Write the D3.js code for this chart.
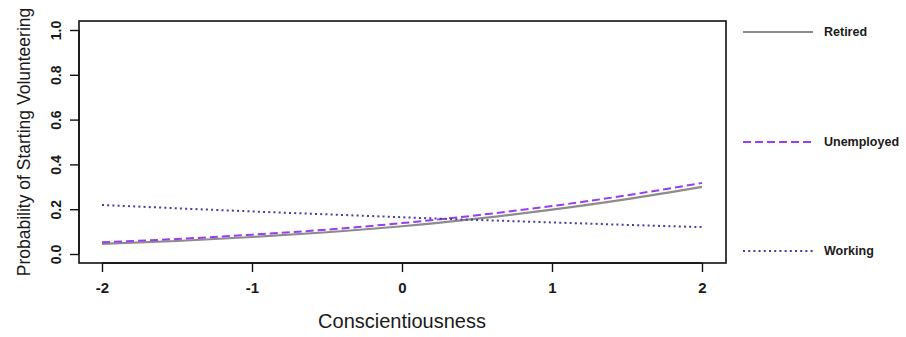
<!DOCTYPE html>
<html>
<head>
<meta charset="utf-8">
<script src="https://cdn.jsdelivr.net/npm/d3@7"></script>
<style>
  body { margin: 0; background: #fff; }
  svg text { font-family: "Liberation Sans", Arial, sans-serif; fill: #1a1a1a; }
</style>
</head>
<body>
<div id="chart"></div>
<script>
// values
const conscientiousness = [-2, -1.5, -1, -0.5, 0, 0.5, 1, 1.5, 2]
const retired    = [0.045, 0.058, 0.076, 0.097, 0.124, 0.158, 0.198, 0.245, 0.300]
const unemployed = [0.052, 0.067, 0.086, 0.109, 0.138, 0.173, 0.214, 0.262, 0.317]
const working    = [0.219, 0.204, 0.190, 0.177, 0.164, 0.152, 0.141, 0.130, 0.120]
const xTicks = [-2, -1, 0, 1, 2]
const yTicks = [0, 0.2, 0.4, 0.6, 0.8, 1.0]
const seriesNames = ['Retired', 'Unemployed', 'Working']

const W = 906, H = 337
const box = { left: 79, top: 21, right: 726, bottom: 263 }

const styles = {
    Retired:    { color: '#8c8c8c', width: 2.2, dash: null },
    Unemployed: { color: '#9a3cf0', width: 2, dash: '8,4' },
    Working:    { color: '#4b3aa6', width: 2, dash: '2,3.2' },
}

const x = d3.scaleLinear().domain([-2, 2]).range([102, 702])
const y = d3.scaleLinear().domain([0, 1]).range([254, 30])

const svg = d3.select('#chart').append('svg')
    .attr('width', W).attr('height', H)
    .attr('viewBox', [0, 0, W, H])

const series = [
    { name: 'Retired', values: retired },
    { name: 'Unemployed', values: unemployed },
    { name: 'Working', values: working },
]

const line = d3.line()
    .x((d, i) => x(conscientiousness[i]))
    .y(d => y(d))
    .curve(d3.curveMonotoneX)

svg.selectAll('.series')
    .data(series)
    .enter()
    .append('path')
    .attr('class', 'series')
    .attr('d', d => line(d.values))
    .attr('fill', 'none')
    .attr('stroke', d => styles[d.name].color)
    .attr('stroke-width', d => styles[d.name].width)
    .attr('stroke-dasharray', d => styles[d.name].dash)

// plot box
svg.append('rect')
    .attr('x', box.left).attr('y', box.top)
    .attr('width', box.right - box.left).attr('height', box.bottom - box.top)
    .attr('fill', 'none').attr('stroke', '#111').attr('stroke-width', 1.6)

// x axis (R style: ticks hang below the box)
const xAxis = d3.axisBottom(x).tickValues(xTicks).tickSize(9).tickPadding(10)
const gx = svg.append('g').attr('transform', `translate(0,${box.bottom})`).call(xAxis)
gx.select('.domain').attr('d', `M${x(-2)},0H${x(2)}`).attr('stroke', '#111').attr('stroke-width', 1.4)
gx.selectAll('.tick line').attr('stroke', '#111').attr('stroke-width', 1.4)
gx.selectAll('.tick text').style('font-size', '15px').style('font-weight', 'bold').attr('fill', '#1a1a1a')
    .text(d => d < 0 ? '-' + Math.abs(d) : d)

// y axis with rotated labels
const yAxis = d3.axisLeft(y).tickValues(yTicks).tickSize(9).tickFormat(d3.format('.1f'))
const gy = svg.append('g').attr('transform', `translate(${box.left},0)`).call(yAxis)
gy.select('.domain').attr('d', `M0,${y(0)}V${y(1)}`).attr('stroke', '#111').attr('stroke-width', 1.4)
gy.selectAll('.tick line').attr('stroke', '#111').attr('stroke-width', 1.4)
gy.selectAll('.tick text')
    .attr('x', null).attr('dy', null)
    .attr('text-anchor', 'middle')
    .attr('transform', 'translate(-23,0) rotate(-90)')
    .attr('dy', '0.35em')
    .style('font-size', '14px').style('font-weight', 'bold').attr('fill', '#1a1a1a')

// axis titles
svg.append('text')
    .attr('x', x(0)).attr('y', 328)
    .attr('text-anchor', 'middle')
    .style('font-size', '20px')
    .text('Conscientiousness')

svg.append('text')
    .attr('transform', `translate(24,${(y(0) + y(1)) / 2}) rotate(-90)`)
    .attr('text-anchor', 'middle')
    .attr('dy', '0.35em')
    .style('font-size', '17.5px')
    .text('Probability of Starting Volunteering')

// legend
const legendY = [32, 142, 251]
const lg = svg.selectAll('.legend')
    .data(seriesNames)
    .enter()
    .append('g')
    .attr('class', 'legend')
    .attr('transform', (d, i) => `translate(743,${legendY[i]})`)

lg.append('line')
    .attr('x1', 0).attr('x2', 70)
    .attr('stroke', d => styles[d].color)
    .attr('stroke-width', d => styles[d].width)
    .attr('stroke-dasharray', d => styles[d].dash)

lg.append('text')
    .attr('x', 81).attr('dy', '0.35em')
    .style('font-size', '12.5px').style('font-weight', 'bold')
    .text(d => d)
</script>
</body>
</html>
